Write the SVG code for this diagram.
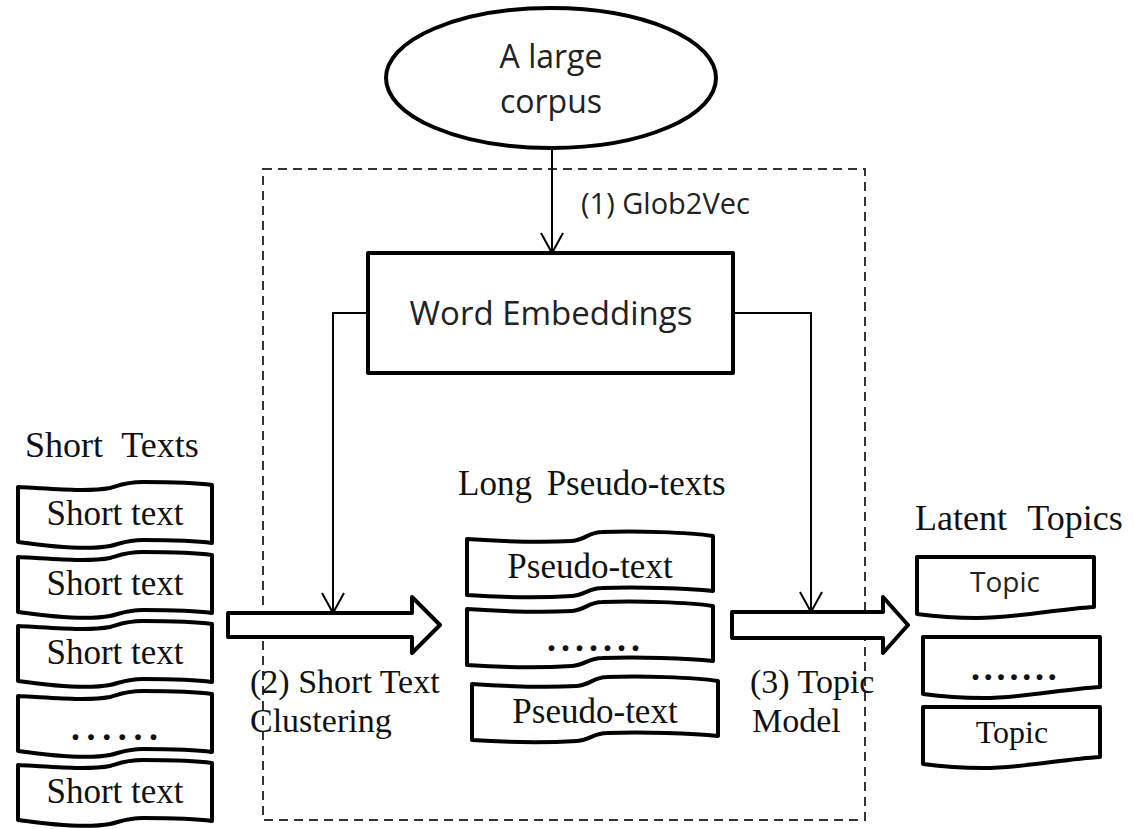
<svg xmlns="http://www.w3.org/2000/svg" width="1134" height="829" viewBox="0 0 1134 829">
<style>
.shape{fill:#fff;stroke:#000;stroke-width:4;stroke-linejoin:round}
.thin{fill:none;stroke:#000;stroke-width:2}
.serif{font-family:"Liberation Serif","Times New Roman",serif;fill:#111}
.sans{font-family:"Open Sans","Liberation Sans",sans-serif;fill:#222}
.dots{font-family:"Liberation Serif",serif;font-size:36px;font-weight:bold;fill:#111}
</style>
<defs>
<marker id="open" viewBox="0 0 24 24" refX="22" refY="12" markerWidth="24" markerHeight="24" markerUnits="userSpaceOnUse" orient="auto">
<path d="M2,1 L22,12 L2,23" fill="none" stroke="#000" stroke-width="2"/>
</marker>
<path id="tapeL" d="M0,5 C35,7 70,10 92,6 C102,3 108,0 125,0 C155,0 180,1 194,3 L194,61 C180,59 155,58 125,58 C108,58 102,62 92,64 C70,68 35,65 0,60 Z"/>
<path id="tapeC" d="M0,8 C30,10 70,12 105,10 C118,9 122,1 135,1 C170,0 220,1 246,5 L246,60 C220,57 170,56 135,57 C122,57 118,64 105,65 C70,67 30,66 0,64 Z"/>
<path id="docR" d="M0,0 H177 V50 C140,52 100,61 60,61 C35,61 15,59 0,57 Z"/>
</defs>

<rect id="boundary" x="263" y="169" width="602" height="651" fill="none" stroke="#333" stroke-width="2" stroke-dasharray="9,6"/>

<g id="corpus">
<ellipse cx="551" cy="78" rx="165" ry="70" class="shape" stroke-width="3.5"/>
<text class="sans" font-size="32" x="551" y="68" text-anchor="middle">A large</text>
<text class="sans" font-size="32" x="551" y="113" text-anchor="middle">corpus</text>
</g>

<g id="word-embeddings">
<rect x="368" y="253" width="365" height="120" class="shape"/>
<text class="sans" font-size="33" x="551" y="325" text-anchor="middle">Word Embeddings</text>
</g>

<g id="short-texts">
<text class="serif" font-size="36" x="25" y="457" word-spacing="10">Short Texts</text>
<g transform="translate(18,482)"><use href="#tapeL" class="shape"/><text class="serif" font-size="35" x="97" y="43" text-anchor="middle">Short text</text></g>
<g transform="translate(18,552)"><use href="#tapeL" class="shape"/><text class="serif" font-size="35" x="97" y="43" text-anchor="middle">Short text</text></g>
<g transform="translate(18,621)"><use href="#tapeL" class="shape"/><text class="serif" font-size="35" x="97" y="43" text-anchor="middle">Short text</text></g>
<g transform="translate(18,691)"><use href="#tapeL" class="shape"/><text class="dots" x="53" y="49" letter-spacing="6.6">......</text></g>
<g transform="translate(18,760)"><use href="#tapeL" class="shape"/><text class="serif" font-size="35" x="97" y="43" text-anchor="middle">Short text</text></g>
</g>

<g id="pseudo-texts">
<text class="serif" font-size="35" x="458" y="495" word-spacing="6">Long Pseudo-texts</text>
<g transform="translate(467,531)"><use href="#tapeC" class="shape"/><text class="serif" font-size="35" x="123" y="47" text-anchor="middle">Pseudo-text</text></g>
<g transform="translate(467,601)"><use href="#tapeC" class="shape"/><text class="dots" x="80" y="50" letter-spacing="5">.......</text></g>
<g transform="translate(472,676)"><use href="#tapeC" class="shape"/><text class="serif" font-size="35" x="123" y="47" text-anchor="middle">Pseudo-text</text></g>
</g>

<g id="latent-topics">
<text class="serif" font-size="36" x="915" y="530" word-spacing="12">Latent Topics</text>
<g transform="translate(917,557)"><use href="#docR" class="shape"/><text class="sans" font-size="28" x="88" y="35" text-anchor="middle">Topic</text></g>
<g transform="translate(923,637)"><use href="#docR" class="shape"/><text class="dots" x="48" y="43" letter-spacing="3.8">.......</text></g>
<g transform="translate(923,707)"><use href="#docR" class="shape"/><text class="serif" font-size="32" x="89" y="36" text-anchor="middle">Topic</text></g>
</g>

<g id="connectors">
<line x1="552" y1="148" x2="552" y2="253" class="thin" marker-end="url(#open)"/>
<polyline points="368,313 333,313 333,613" class="thin" marker-end="url(#open)"/>
<polyline points="733,313 811,313 811,612" class="thin" marker-end="url(#open)"/>
<path d="M228,613 H412 V597 L440,625 L412,653 V637 H228 Z" class="shape" stroke-width="4.5"/>
<path d="M732,612 H883 V597 L908,625 L883,653 V638 H732 Z" class="shape" stroke-width="4.5"/>
</g>

<g id="labels">
<text class="sans" font-size="29" x="581" y="214">(1) Glob2Vec</text>
<text class="serif" font-size="34" x="250" y="693">(2) Short Text</text>
<text class="serif" font-size="34" x="250" y="732">Clustering</text>
<text class="serif" font-size="34" x="750" y="693">(3) Topic</text>
<text class="serif" font-size="34" x="752" y="732">Model</text>
</g>
</svg>
